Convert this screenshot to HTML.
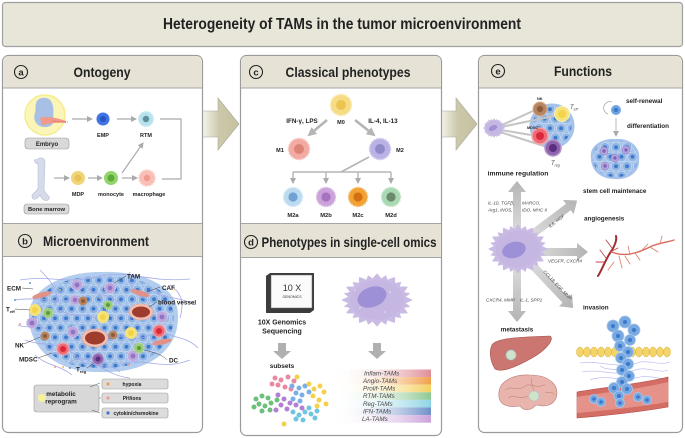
<!DOCTYPE html>
<html><head><meta charset="utf-8"><style>
html,body{margin:0;padding:0;background:#fff;}
svg{display:block;}
text{font-family:"Liberation Sans",Arial,sans-serif;}
.b{font-weight:bold;fill:#222;}
.it{font-style:italic;fill:#444;}
</style></head><body>
<svg width="685" height="438" viewBox="0 0 685 438" xmlns="http://www.w3.org/2000/svg">
<defs>
<pattern id="tum" width="11" height="19" patternUnits="userSpaceOnUse">
 <rect width="11" height="19" fill="#a4c2ea"/>
 <circle cx="5.5" cy="4.75" r="4.8" fill="#8fb3e2" stroke="#c6daf2" stroke-width="0.8"/>
 <circle cx="5.5" cy="4.75" r="1.9" fill="#3b78cc"/>
 <circle cx="0" cy="14.25" r="4.8" fill="#8fb3e2" stroke="#c6daf2" stroke-width="0.8"/>
 <circle cx="0" cy="14.25" r="1.9" fill="#3b78cc"/>
 <circle cx="11" cy="14.25" r="4.8" fill="#8fb3e2" stroke="#c6daf2" stroke-width="0.8"/>
 <circle cx="11" cy="14.25" r="1.9" fill="#3b78cc"/>
</pattern>
<linearGradient id="bigarr" x1="0" x2="1" y1="0" y2="0"><stop offset="0" stop-color="#fbfbf6"/><stop offset="0.5" stop-color="#ccc8aa"/><stop offset="1" stop-color="#c4c0a0"/></linearGradient>
<linearGradient id="garr" x1="0" x2="1" y1="0" y2="0"><stop offset="0" stop-color="#e6e6e6"/><stop offset="1" stop-color="#b4b4b4"/></linearGradient>
<linearGradient id="g1" x1="0" x2="1"><stop offset="0" stop-color="#fff" stop-opacity="0"/><stop offset="1" stop-color="#df8e98"/></linearGradient>
<linearGradient id="g2" x1="0" x2="1"><stop offset="0" stop-color="#fff" stop-opacity="0"/><stop offset="1" stop-color="#f0a04a"/></linearGradient>
<linearGradient id="g3" x1="0" x2="1"><stop offset="0" stop-color="#fff" stop-opacity="0"/><stop offset="1" stop-color="#f3d060"/></linearGradient>
<linearGradient id="g4" x1="0" x2="1"><stop offset="0" stop-color="#fff" stop-opacity="0"/><stop offset="1" stop-color="#8ec892"/></linearGradient>
<linearGradient id="g5" x1="0" x2="1"><stop offset="0" stop-color="#fff" stop-opacity="0"/><stop offset="1" stop-color="#8ed4e6"/></linearGradient>
<linearGradient id="g6" x1="0" x2="1"><stop offset="0" stop-color="#fff" stop-opacity="0"/><stop offset="1" stop-color="#6f8fc8"/></linearGradient>
<linearGradient id="g7" x1="0" x2="1"><stop offset="0" stop-color="#fff" stop-opacity="0"/><stop offset="1" stop-color="#c9a2da"/></linearGradient>
<marker id="ah" markerUnits="userSpaceOnUse" markerWidth="6" markerHeight="6" refX="5" refY="3" orient="auto"><path d="M0,0 L6,3 L0,6 z" fill="#aaa"/></marker>
<marker id="ah2" markerUnits="userSpaceOnUse" markerWidth="9" markerHeight="9" refX="7" refY="4.5" orient="auto"><path d="M0,0 L9,4.5 L0,9 z" fill="#b5b5b5"/></marker>
<g id="mac">
 <polygon points="12.5,0 8.69,2.33 10.83,6.25 6.36,6.36 6.25,10.83 2.33,8.69 0,12.5 -2.33,8.69 -6.25,10.83 -6.36,6.36 -10.83,6.25 -8.69,2.33 -12.5,0 -8.69,-2.33 -10.83,-6.25 -6.36,-6.36 -6.25,-10.83 -2.33,-8.69 0,-12.5 2.33,-8.69 6.25,-10.83 6.36,-6.36 10.83,-6.25 8.69,-2.33" fill="#c9bbe4" stroke="#c9bbe4" stroke-width="0.6" stroke-linejoin="round"/>
 <polygon points="12.5,0 8.69,2.33 10.83,6.25 6.36,6.36 6.25,10.83 2.33,8.69 0,12.5 -2.33,8.69 -6.25,10.83 -6.36,6.36 -10.83,6.25 -8.69,2.33 -12.5,0 -8.69,-2.33 -10.83,-6.25 -6.36,-6.36 -6.25,-10.83 -2.33,-8.69 0,-12.5 2.33,-8.69 6.25,-10.83 6.36,-6.36 10.83,-6.25 8.69,-2.33" fill="#c9bbe4" transform="rotate(15)"/>
 <circle r="9.6" fill="#c6b6e2"/>
</g>
</defs>

<!-- Title -->
<rect x="2.5" y="2.5" width="680" height="44" rx="3" fill="#e8e5d9" stroke="#a0a0a0" stroke-width="1.2"/>
<text x="342" y="29" text-anchor="middle" font-size="15.5" font-weight="bold" fill="#222" textLength="358" lengthAdjust="spacingAndGlyphs">Heterogeneity of TAMs in the tumor microenvironment</text>

<!-- Big arrows between panels -->
<polygon points="200,111 218,111 218,98 239,124 218,150 218,137 200,137" fill="url(#bigarr)" stroke="#aaa79a" stroke-width="0.6"/>
<polygon points="438,111 456,111 456,98 477,124 456,150 456,137 438,137" fill="url(#bigarr)" stroke="#aaa79a" stroke-width="0.6"/>

<!-- Panel a/b frame -->
<rect x="2.5" y="55.5" width="200" height="377" rx="6" fill="#fff" stroke="#9b9b9b" stroke-width="1.2"/>
<path d="M3.1,88 V61.5 Q3.1,56.1 8.5,56.1 H196.5 Q201.9,56.1 201.9,61.5 V88 Z" fill="#e6e3d6"/>
<line x1="3" y1="88" x2="202" y2="88" stroke="#a5a5a5" stroke-width="1"/>
<rect x="3.1" y="223.5" width="198.8" height="33" fill="#e6e3d6"/>
<line x1="3" y1="223.5" x2="202" y2="223.5" stroke="#a5a5a5" stroke-width="1"/>
<line x1="3" y1="256.5" x2="202" y2="256.5" stroke="#a5a5a5" stroke-width="1"/>

<!-- Panel c/d frame -->
<rect x="240.5" y="55.5" width="201" height="380" rx="6" fill="#fff" stroke="#9b9b9b" stroke-width="1.2"/>
<path d="M241.1,88 V61.5 Q241.1,56.1 246.5,56.1 H435.5 Q440.9,56.1 440.9,61.5 V88 Z" fill="#e6e3d6"/>
<line x1="241" y1="88" x2="441" y2="88" stroke="#a5a5a5" stroke-width="1"/>
<rect x="241.1" y="223.5" width="199.8" height="34" fill="#e6e3d6"/>
<line x1="241" y1="223.5" x2="441" y2="223.5" stroke="#a5a5a5" stroke-width="1"/>
<line x1="241" y1="257.5" x2="441" y2="257.5" stroke="#a5a5a5" stroke-width="1"/>

<!-- Panel e frame -->
<rect x="478.5" y="55.5" width="204" height="377" rx="6" fill="#fff" stroke="#9b9b9b" stroke-width="1.2"/>
<path d="M479.1,88 V61.5 Q479.1,56.1 484.5,56.1 H676.5 Q681.9,56.1 681.9,61.5 V88 Z" fill="#e6e3d6"/>
<line x1="479" y1="88" x2="682" y2="88" stroke="#a5a5a5" stroke-width="1"/>

<!-- Headers -->
<circle cx="21" cy="72" r="6.5" fill="none" stroke="#222" stroke-width="1.1"/>
<text x="21" y="75.5" text-anchor="middle" font-size="9.5" class="b">a</text>
<text x="102" y="77" text-anchor="middle" font-size="14" class="b" textLength="57" lengthAdjust="spacingAndGlyphs">Ontogeny</text>
<circle cx="25" cy="241" r="6.5" fill="none" stroke="#222" stroke-width="1.1"/>
<text x="25" y="244.5" text-anchor="middle" font-size="9.5" class="b">b</text>
<text x="96" y="246" text-anchor="middle" font-size="14" class="b" textLength="106" lengthAdjust="spacingAndGlyphs">Microenvironment</text>
<circle cx="256" cy="72" r="6.5" fill="none" stroke="#222" stroke-width="1.1"/>
<text x="256" y="75.5" text-anchor="middle" font-size="9.5" class="b">c</text>
<text x="348" y="77" text-anchor="middle" font-size="14" class="b" textLength="125" lengthAdjust="spacingAndGlyphs">Classical phenotypes</text>
<circle cx="251" cy="242" r="6.5" fill="none" stroke="#222" stroke-width="1.1"/>
<text x="251" y="245.5" text-anchor="middle" font-size="9.5" class="b">d</text>
<text x="349" y="247" text-anchor="middle" font-size="14" class="b" textLength="175" lengthAdjust="spacingAndGlyphs">Phenotypes in single-cell omics</text>
<circle cx="498" cy="71" r="6.5" fill="none" stroke="#222" stroke-width="1.1"/>
<text x="498" y="74.5" text-anchor="middle" font-size="9.5" class="b">e</text>
<text x="583" y="76" text-anchor="middle" font-size="14" class="b" textLength="58" lengthAdjust="spacingAndGlyphs">Functions</text>

<!-- ===== Panel a: Ontogeny ===== -->
<circle cx="45" cy="115" r="20" fill="#fbf6b8" stroke="#f5ec90" stroke-width="1.5"/>
<path d="M36,103 C38,96 50,96 52,103 C55,110 52,116 54,120 C54,126 46,129 40,126 C35,124 33,118 35,113 C36,110 35,106 36,103Z" fill="#a9c0e6"/>
<path d="M40,118 C46,116 54,117 66,121 L66,123 C56,122 48,124 42,125Z" fill="#f09a8a"/>
<line x1="52" y1="121" x2="68" y2="122" stroke="#e86a5a" stroke-width="0.8" stroke-dasharray="1.5,1"/>
<rect x="25" y="138" width="44" height="11" rx="3" fill="#d9d9d9" stroke="#999" stroke-width="0.6"/>
<text x="47" y="146" text-anchor="middle" font-size="6" class="b">Embryo</text>

<line x1="72" y1="119" x2="92" y2="119" stroke="#aaa" stroke-width="1.2" marker-end="url(#ah)"/>
<circle cx="103" cy="119" r="6.5" fill="#3f74e6"/>
<circle cx="103" cy="119" r="3" fill="#2a55c0"/>
<text x="103" y="137" text-anchor="middle" font-size="5.5" class="b">EMP</text>
<line x1="117" y1="119" x2="136" y2="119" stroke="#aaa" stroke-width="1.2" marker-end="url(#ah)"/>
<circle cx="146" cy="119" r="7.5" fill="#b6e2ee" stroke="#d3eef5" stroke-width="1.5" stroke-dasharray="2,1"/>
<circle cx="146" cy="119" r="3.2" fill="#5e8f9e"/>
<text x="146" y="137" text-anchor="middle" font-size="5.5" class="b">RTM</text>
<polyline points="160,119 181,119 181,179 162,179" fill="none" stroke="#aaa" stroke-width="1.2"/>

<path d="M37,160 C40,156 45,158 45,162 L44,190 C46,195 52,197 48,200 C44,202 41,198 40,195 C38,199 33,201 32,197 C31,194 37,192 38,188 L38,164 C34,163 33,158 37,160Z" fill="#d6dbea" stroke="#b8bfd4" stroke-width="0.6"/>
<rect x="24" y="204" width="45" height="10" rx="3" fill="#d9d9d9" stroke="#999" stroke-width="0.6"/>
<text x="46.5" y="211" text-anchor="middle" font-size="5.8" class="b">Bone marrow</text>
<line x1="54" y1="178" x2="69" y2="178" stroke="#aaa" stroke-width="1.2" marker-end="url(#ah)"/>
<circle cx="78" cy="178" r="7" fill="#f2d478"/>
<circle cx="78" cy="178" r="3.5" fill="#e6c35a"/>
<text x="78" y="196" text-anchor="middle" font-size="5.5" class="b">MDP</text>
<line x1="88" y1="178" x2="102" y2="178" stroke="#aaa" stroke-width="1.2" marker-end="url(#ah)"/>
<circle cx="111" cy="178" r="7" fill="#92d56c"/>
<circle cx="111" cy="178" r="3.5" fill="#5ea83c"/>
<text x="111" y="196" text-anchor="middle" font-size="5.5" class="b">monocyte</text>
<line x1="122" y1="178" x2="137" y2="178" stroke="#aaa" stroke-width="1.2" marker-end="url(#ah)"/>
<line x1="122" y1="173" x2="143" y2="143" stroke="#aaa" stroke-width="1.2" marker-end="url(#ah)"/>
<circle cx="147" cy="178" r="8" fill="#f9beb6" stroke="#fbd2cc" stroke-width="1.5" stroke-dasharray="2,1"/>
<circle cx="147" cy="178" r="3.2" fill="#f29a90"/>
<text x="149" y="196" text-anchor="middle" font-size="5.5" class="b">macrophage</text>

<!-- ===== Panel b: Microenvironment ===== -->
<path d="M29,318 C27,292 58,272 100,272 C142,270 180,286 178,318 C178,350 148,374 100,372 C58,373 30,350 29,318Z" fill="#b3cdee"/>
<path d="M32,318 C31,294 60,276 100,276 C140,275 175,289 174,318 C174,347 146,369 100,368 C60,369 33,347 32,318Z" fill="url(#tum)"/>
<g fill="none" stroke="#a3a9e6" stroke-width="0.8">
<path d="M20,280 C50,275 70,285 100,276 C130,270 150,283 190,279"/>
<path d="M15,300 C40,296 60,305 80,298"/>
<path d="M25,340 C45,348 60,338 80,360 C90,368 110,362 120,372"/>
<path d="M120,365 C140,355 160,372 190,360"/>
<path d="M150,290 C165,300 180,296 195,305"/>
<path d="M160,330 C175,340 185,335 198,348"/>
<path d="M40,270 C55,285 60,295 55,305"/>
<path d="M130,272 C125,285 140,300 150,300"/>
<path d="M70,362 C90,350 100,375 130,378"/>
<path d="M18,325 C30,330 35,322 48,330"/>
<path d="M85,285 C95,300 110,290 120,305"/>
<path d="M60,310 C75,320 90,310 100,322"/>
<path d="M105,340 C120,330 130,345 150,335"/>
<path d="M170,285 C180,292 185,300 180,318"/>
<path d="M35,355 C45,365 60,365 72,375"/>
</g>
<!-- CAF -->
<ellipse cx="42" cy="295" rx="10" ry="2.6" fill="#e39086" transform="rotate(-15 42 295)"/>
<ellipse cx="140" cy="293" rx="10" ry="2.6" fill="#e39086" transform="rotate(18 140 293)"/>
<ellipse cx="162" cy="342" rx="10" ry="2.6" fill="#e39086" transform="rotate(-12 162 342)"/>
<!-- blood vessels -->
<ellipse cx="141" cy="312" rx="12" ry="8" fill="#f1c0b4" stroke="#e8a090" stroke-width="1" stroke-dasharray="1.5,1"/>
<ellipse cx="141" cy="312" rx="9" ry="5.5" fill="#9e3d2e"/>
<ellipse cx="95" cy="338" rx="13" ry="9" fill="#f1c0b4" stroke="#e8a090" stroke-width="1" stroke-dasharray="1.5,1"/>
<ellipse cx="95" cy="338" rx="10" ry="6.5" fill="#9e3d2e"/>
<!-- TAMs -->
<g fill="#bca6dc" stroke="#d6c8ec" stroke-width="1" stroke-dasharray="1.5,1">
<circle cx="77" cy="285" r="5.5"/><circle cx="110" cy="288" r="5.5"/><circle cx="32" cy="323" r="5.5"/>
<circle cx="73" cy="332" r="5.5"/><circle cx="162" cy="317" r="5.5"/><circle cx="133" cy="356" r="5.5"/><circle cx="75" cy="300" r="5"/>
</g>
<g fill="#8f74c4">
<circle cx="77" cy="285" r="2.4"/><circle cx="110" cy="288" r="2.4"/><circle cx="32" cy="323" r="2.4"/>
<circle cx="73" cy="332" r="2.4"/><circle cx="162" cy="317" r="2.4"/><circle cx="133" cy="356" r="2.4"/><circle cx="75" cy="300" r="2.2"/>
</g>
<!-- Teff yellow -->
<g fill="#f6e27a"><circle cx="35" cy="310" r="6"/><circle cx="103" cy="317" r="6"/><circle cx="131" cy="333" r="6"/></g>
<g fill="#f2d34a"><circle cx="35" cy="310" r="3"/><circle cx="103" cy="317" r="3"/><circle cx="131" cy="333" r="3"/></g>
<!-- NK brown -->
<g fill="#b98560"><circle cx="83" cy="301" r="4.5"/><circle cx="45" cy="336" r="4.5"/><circle cx="113" cy="335" r="4.5"/></g>
<g fill="#8f5c3a"><circle cx="83" cy="301" r="2"/><circle cx="45" cy="336" r="2"/><circle cx="113" cy="335" r="2"/></g>
<!-- DC green -->
<g fill="#9ccc78" stroke="#b8dc9c" stroke-width="1.2" stroke-dasharray="1,1"><circle cx="48" cy="313" r="5"/><circle cx="108" cy="305" r="4.5"/><circle cx="139" cy="348" r="5"/></g>
<g fill="#5e9a3c"><circle cx="48" cy="313" r="2"/><circle cx="108" cy="305" r="2"/><circle cx="139" cy="348" r="2"/></g>
<!-- MDSC red -->
<g fill="#ee6a74" stroke="#f5a3a8" stroke-width="1.2"><circle cx="63" cy="349" r="6"/><circle cx="159" cy="331" r="6"/></g>
<g fill="#d8283a"><circle cx="63" cy="349" r="3"/><circle cx="159" cy="331" r="3"/></g>
<!-- Treg -->
<circle cx="98" cy="359" r="5.5" fill="#8e64ac" stroke="#b494cc" stroke-width="1"/>
<circle cx="98" cy="359" r="2.5" fill="#5a2f80"/>
<!-- small dots -->
<g><circle cx="30" cy="283" r="0.9" fill="#3b78cc"/><circle cx="15" cy="300" r="0.9" fill="#3b78cc"/><circle cx="20" cy="324" r="1" fill="#f29a90"/><circle cx="55" cy="367" r="1" fill="#f29a90"/><circle cx="63" cy="367" r="0.9" fill="#f0a040"/><circle cx="70" cy="368" r="0.9" fill="#3b78cc"/><circle cx="128" cy="365" r="1" fill="#f29a90"/><circle cx="175" cy="290" r="0.9" fill="#f5e070"/><circle cx="100" cy="298" r="0.9" fill="#f29a90"/><circle cx="60" cy="290" r="0.9" fill="#f5e070"/></g>
<!-- labels b -->
<g stroke="#444" stroke-width="0.5" fill="none">
<line x1="22" y1="288" x2="33" y2="289"/><line x1="15" y1="309" x2="30" y2="310"/><line x1="24" y1="344" x2="40" y2="337"/>
<line x1="38" y1="358" x2="52" y2="353"/><line x1="87" y1="368" x2="94" y2="363"/><line x1="126" y1="276" x2="114" y2="283"/>
<line x1="160" y1="287" x2="147" y2="292"/><line x1="157" y1="302" x2="149" y2="307"/><path d="M167,360 C163,356 160,354 144,350"/>
</g>
<g font-size="6.3" class="b">
<text x="7" y="290.5">ECM</text>
<text x="6" y="311.5">T<tspan font-size="4" dy="1.5">eff</tspan></text>
<text x="15" y="347.5">NK</text>
<text x="19" y="361.5">MDSC</text>
<text x="76" y="371.5">T<tspan font-size="4" dy="1.5">reg</tspan></text>
<text x="127" y="278.5">TAM</text>
<text x="162" y="290">CAF</text>
<text x="158" y="304.5">blood vessel</text>
<text x="169" y="362.5">DC</text>
</g>
<!-- metabolic reprogram -->
<rect x="34" y="385" width="65" height="27" rx="2.5" fill="#d8d8d8" stroke="#999" stroke-width="0.6"/>
<circle cx="42" cy="398" r="4" fill="#f6f29a"/>
<text x="61" y="396" text-anchor="middle" font-size="6.3" class="b">metabolic</text>
<text x="61" y="403.5" text-anchor="middle" font-size="6.3" class="b">reprogram</text>
<g stroke="#555" stroke-width="0.5"><line x1="90" y1="387" x2="100" y2="383"/><line x1="99" y1="398" x2="101" y2="398"/><line x1="92" y1="410" x2="100" y2="413"/></g>
<g fill="#dcdcdc" stroke="#999" stroke-width="0.6">
<rect x="102" y="379" width="66" height="10" rx="2"/><rect x="102" y="393" width="66" height="10" rx="2"/><rect x="102" y="408" width="66" height="10" rx="2"/>
</g>
<circle cx="108" cy="384" r="1.6" fill="#f0a040"/><circle cx="108" cy="398" r="1.6" fill="#f29a90"/><circle cx="108" cy="413" r="1.6" fill="#3b78cc"/>
<g font-size="5" class="b" text-anchor="middle">
<text x="132" y="386">hypoxia</text><text x="132" y="400">PH/ions</text><text x="136" y="415">cytokin/chemokine</text>
</g>

<!-- ===== Panel c ===== -->
<circle cx="341" cy="105" r="10.5" fill="#f7dc86" stroke="#fae8ae" stroke-width="1.5" stroke-dasharray="2,1"/>
<circle cx="341" cy="105" r="5" fill="#ecc452"/>
<text x="341" y="124" text-anchor="middle" font-size="5.5" class="b">M0</text>
<text x="302" y="123" text-anchor="middle" font-size="6.3" class="b">IFN-γ, LPS</text>
<text x="383" y="123" text-anchor="middle" font-size="6.3" class="b">IL-4, IL-13</text>
<line x1="327" y1="120" x2="309" y2="135" stroke="#b5b5b5" stroke-width="2.6" marker-end="url(#ah2)"/>
<line x1="355" y1="120" x2="374" y2="135" stroke="#b5b5b5" stroke-width="2.6" marker-end="url(#ah2)"/>
<circle cx="299" cy="149" r="10.5" fill="#f2aaa2" stroke="#f6c6c0" stroke-width="1.5" stroke-dasharray="2,1"/>
<circle cx="299" cy="149" r="5" fill="#dc8478"/>
<text x="280" y="152" text-anchor="middle" font-size="5.5" class="b">M1</text>
<circle cx="380" cy="149" r="10.5" fill="#bab2e4" stroke="#d2ccf0" stroke-width="1.5" stroke-dasharray="2,1"/>
<circle cx="380" cy="149" r="5" fill="#918ac8"/>
<text x="400" y="152" text-anchor="middle" font-size="5.5" class="b">M2</text>
<g stroke="#b5b5b5" stroke-width="1.6" fill="none">
<line x1="369" y1="157" x2="341" y2="172"/>
<line x1="293" y1="172" x2="391" y2="172"/>
</g>
<g stroke="#b5b5b5" stroke-width="1.4">
<line x1="293" y1="172" x2="293" y2="183" marker-end="url(#ah)"/>
<line x1="326" y1="172" x2="326" y2="183" marker-end="url(#ah)"/>
<line x1="358" y1="172" x2="358" y2="183" marker-end="url(#ah)"/>
<line x1="391" y1="172" x2="391" y2="183" marker-end="url(#ah)"/>
</g>
<circle cx="293" cy="197" r="9.5" fill="#bcdaf0" stroke="#d6e9f6" stroke-width="1.5" stroke-dasharray="2,1"/>
<circle cx="293" cy="197" r="4.6" fill="#6fa2d2"/>
<circle cx="326" cy="197" r="9.5" fill="#cba2da" stroke="#dcc0e6" stroke-width="1.5" stroke-dasharray="2,1"/>
<circle cx="326" cy="197" r="4.6" fill="#a672c2"/>
<circle cx="358" cy="197" r="9.5" fill="#f2a234" stroke="#f6c27a" stroke-width="1.5" stroke-dasharray="2,1"/>
<circle cx="358" cy="197" r="4.6" fill="#d47010"/>
<circle cx="391" cy="197" r="9.5" fill="#a9d9b2" stroke="#c6e6cc" stroke-width="1.5" stroke-dasharray="2,1"/>
<circle cx="391" cy="197" r="4.6" fill="#6b8a6c"/>
<g font-size="5.8" class="b" text-anchor="middle">
<text x="293" y="217">M2a</text><text x="326" y="217">M2b</text><text x="358" y="217">M2c</text><text x="391" y="217">M2d</text>
</g>

<!-- ===== Panel d ===== -->
<polygon points="266,276 270,273 314,273 314,310 310,313 266,313" fill="#3c3c3c"/>
<rect x="271" y="275" width="41" height="33" fill="#fbfbfb" stroke="#666" stroke-width="0.5"/>
<text x="292" y="291" text-anchor="middle" font-size="9" fill="#333" font-family="Liberation Mono, monospace">10 X</text>
<text x="292" y="298" text-anchor="middle" font-size="3.5" fill="#333">GENOMICS</text>
<text x="282" y="324.5" text-anchor="middle" font-size="7" class="b">10X Genomics</text>
<text x="282" y="333.5" text-anchor="middle" font-size="7" class="b">Sequencing</text>
<polygon points="278,343 286,343 286,351 291,351 282,359 273,351 278,351" fill="#b0b0b0"/>
<text x="282" y="368" text-anchor="middle" font-size="6.5" class="b">subsets</text>
<g fill="#e98aa0"><circle cx="275" cy="378" r="2.5"/><circle cx="281" cy="380" r="2.5"/><circle cx="288" cy="377" r="2.5"/><circle cx="294" cy="381" r="2.5"/><circle cx="278" cy="385" r="2.5"/><circle cx="285" cy="387" r="2.5"/><circle cx="291" cy="389" r="2.5"/><circle cx="272" cy="384" r="2.5"/></g>
<g fill="#79aee6"><circle cx="292" cy="386" r="2.5"/><circle cx="299" cy="388" r="2.5"/><circle cx="305" cy="386" r="2.5"/><circle cx="296" cy="393" r="2.5"/><circle cx="302" cy="395" r="2.5"/><circle cx="309" cy="392" r="2.5"/><circle cx="293" cy="399" r="2.5"/><circle cx="300" cy="401" r="2.5"/></g>
<g fill="#f4d04c"><circle cx="309" cy="384" r="2.5"/><circle cx="314" cy="389" r="2.5"/><circle cx="320" cy="386" r="2.5"/><circle cx="313" cy="396" r="2.5"/><circle cx="319" cy="400" r="2.5"/><circle cx="324" cy="392" r="2.5"/><circle cx="317" cy="406" r="2.5"/><circle cx="297" cy="377" r="2.5"/><circle cx="326" cy="404" r="2.5"/><circle cx="284" cy="424" r="2.5"/></g>
<g fill="#6cc07c"><circle cx="256" cy="399" r="2.5"/><circle cx="262" cy="396" r="2.5"/><circle cx="268" cy="398" r="2.5"/><circle cx="259" cy="404" r="2.5"/><circle cx="265" cy="406" r="2.5"/><circle cx="271" cy="403" r="2.5"/><circle cx="277" cy="400" r="2.5"/><circle cx="262" cy="411" r="2.5"/><circle cx="270" cy="410" r="2.5"/><circle cx="254" cy="407" r="2.5"/></g>
<g fill="#b17fd4"><circle cx="278" cy="395" r="2.5"/><circle cx="284" cy="399" r="2.5"/><circle cx="290" cy="403" r="2.5"/><circle cx="281" cy="405" r="2.5"/><circle cx="287" cy="409" r="2.5"/><circle cx="296" cy="405" r="2.5"/><circle cx="302" cy="408" r="2.5"/><circle cx="276" cy="410" r="2.5"/></g>
<g fill="#6fc4e0"><circle cx="293" cy="412" r="2.5"/><circle cx="299" cy="415" r="2.5"/><circle cx="305" cy="412" r="2.5"/><circle cx="311" cy="414" r="2.5"/><circle cx="296" cy="419" r="2.5"/><circle cx="303" cy="420" r="2.5"/><circle cx="309" cy="408" r="2.5"/><circle cx="315" cy="418" r="2.5"/><circle cx="317" cy="411" r="2.5"/></g>
<!-- big macrophage d -->
<use href="#mac" transform="translate(377,300) scale(2.75,2.05)"/>
<ellipse cx="372" cy="297" rx="15" ry="10" fill="#9d90d6" transform="rotate(-20 372 297)"/>
<g fill="#e8e2f6"><circle cx="360" cy="308" r="0.8"/><circle cx="390" cy="292" r="0.8"/><circle cx="385" cy="312" r="0.8"/><circle cx="355" cy="290" r="0.8"/></g>
<polygon points="373,343 381,343 381,351 386,351 377,359 368,351 373,351" fill="#b0b0b0"/>
<rect x="332" y="369.5" width="99" height="7.6" fill="url(#g1)"/>
<rect x="332" y="377.1" width="99" height="7.6" fill="url(#g2)"/>
<rect x="332" y="384.7" width="99" height="7.6" fill="url(#g3)"/>
<rect x="332" y="392.3" width="99" height="7.6" fill="url(#g4)"/>
<rect x="332" y="399.9" width="99" height="7.6" fill="url(#g5)"/>
<rect x="332" y="407.5" width="99" height="7.6" fill="url(#g6)"/>
<rect x="332" y="415.1" width="99" height="7.6" fill="url(#g7)"/>
<g font-size="6.3" class="it">
<text x="364" y="375.5">Inflam-TAMs</text>
<text x="363" y="383">Angio-TAMs</text>
<text x="363" y="390.6">Prolif-TAMs</text>
<text x="363" y="398.2">RTM-TAMs</text>
<text x="363" y="405.8">Reg-TAMs</text>
<text x="363" y="413.4">IFN-TAMs</text>
<text x="362" y="421">LA-TAMs</text>
</g>

<!-- ===== Panel e ===== -->
<!-- immune regulation -->
<circle cx="552" cy="126" r="21" fill="url(#tum)" stroke="#a4c2ea" stroke-width="3"/>
<g stroke="#c4c4c4" stroke-width="2" fill="none">
<line x1="500" y1="126" x2="533" y2="111"/><line x1="501" y1="127" x2="554" y2="116"/>
<line x1="501" y1="130" x2="531" y2="135"/><line x1="500" y1="132" x2="544" y2="146"/>
</g>
<use href="#mac" transform="translate(494,128) scale(0.85,0.75)"/>
<ellipse cx="493" cy="128" rx="4.5" ry="2.5" fill="#9d90d6" transform="rotate(-25 493 128)"/>
<circle cx="540" cy="109" r="7" fill="#b98560" stroke="#d6ad8e" stroke-width="1"/><circle cx="540" cy="109" r="3.2" fill="#8f5c3a"/>
<circle cx="562" cy="114" r="7.5" fill="#f6e27a" stroke="#fbeeb0" stroke-width="1"/><circle cx="562" cy="114" r="4" fill="#f2d34a"/>
<circle cx="540" cy="136" r="8" fill="#ee6a74" stroke="#f5a3a8" stroke-width="1.5"/><circle cx="540" cy="136" r="4" fill="#d8283a"/>
<circle cx="553" cy="148" r="8" fill="#8e64ac" stroke="#b494cc" stroke-width="1.5"/><circle cx="553" cy="148" r="4" fill="#5a2f80"/>
<g font-size="3.8" class="b"><text x="537" y="100">NK</text><text x="527" y="129">MDSC</text></g>
<text x="570" y="109" font-size="6" class="it" fill="#222">T<tspan font-size="3.5" dy="1.5">eff</tspan></text>
<text x="551" y="165" font-size="6" class="it" fill="#222">T<tspan font-size="3.5" dy="1.5">reg</tspan></text>
<text x="518" y="175.5" text-anchor="middle" font-size="6.8" class="b">immune regulation</text>

<!-- self renewal -->
<path d="M612,102 A6,6 0 1 0 608,114" fill="none" stroke="#aaa" stroke-width="0.8"/>
<circle cx="616" cy="110" r="5" fill="#6fa6e2"/><circle cx="616" cy="110" r="2.2" fill="#3b78cc"/>
<line x1="616" y1="118" x2="616" y2="136" stroke="#aaa" stroke-width="0.8" marker-end="url(#ah)"/>
<text x="626" y="103" font-size="6.3" class="b">self-renewal</text>
<text x="627" y="128" font-size="6.3" class="b">differentiation</text>
<path d="M592,158 C590,146 603,139 616,140 C630,139 640,148 638,160 C639,172 627,179 615,178 C601,178 592,170 592,158Z" fill="url(#tum)" stroke="#a4c2ea" stroke-width="2"/>
<g fill="#b6a4dc" stroke="#8f74c4" stroke-width="0.5"><circle cx="604" cy="151" r="4"/><circle cx="615" cy="158" r="4"/><circle cx="605" cy="166" r="4"/><circle cx="626" cy="150" r="4"/></g>
<g fill="#7d63bb"><circle cx="604" cy="151" r="1.7"/><circle cx="615" cy="158" r="1.7"/><circle cx="605" cy="166" r="1.7"/><circle cx="626" cy="150" r="1.7"/></g>
<text x="583" y="193" font-size="6.3" class="b">stem cell maintenace</text>
<text x="584" y="220.5" font-size="6.3" class="b">angiogenesis</text>

<!-- big gray arrows -->
<g fill="url(#garr)">
<polygon points="0,-4 53,-4 53,-9 64,0 53,9 53,4 0,4" transform="translate(517,245) rotate(-90)"/>
<polygon points="0,-4 63,-4 63,-9 74,0 63,9 63,4 0,4" transform="translate(518,245) rotate(-37)"/>
<polygon points="0,-4 59,-4 59,-9 70,0 59,9 59,4 0,4" transform="translate(518,252)"/>
<polygon points="0,-4 69,-4 69,-9 80,0 69,9 69,4 0,4" transform="translate(518,250) rotate(46.5)"/>
<polygon points="0,-4 61,-4 61,-9 72,0 61,9 61,4 0,4" transform="translate(517,250) rotate(90)"/>
</g>
<use href="#mac" transform="translate(518,249) scale(2.3,1.9)"/>
<ellipse cx="514" cy="250" rx="12" ry="8" fill="#9d90d6" transform="rotate(-15 514 250)"/>
<g font-size="4.6" class="it">
<text x="488" y="204.5">IL-10, TGFβ,</text><text x="488" y="211.5">Arg1, iNOS,</text>
<text x="522" y="204.5">MARCO,</text><text x="522" y="211.5">IDO, MHC II</text>
<text x="548" y="262.5">VEGFR, CXCR4</text>
<text x="486" y="301.5">CXCR4, MMP</text><text x="520" y="301.5">IL-1, SPP1</text>
<text x="0" y="0" transform="translate(550,228) rotate(-37)">IL6, HGF</text>
<text x="0" y="0" transform="translate(543,272) rotate(46.5)">CCL18, EGF, MMP</text>
</g>
<!-- vessels angiogenesis -->
<g fill="none" stroke="#c24848" stroke-linecap="round">
<path d="M598,276 C603,268 606,258 612,250 C615,245 617,240 616,236" stroke-width="2" stroke="#9e2f2f"/>
<path d="M606,258 L600,250 M610,252 L618,248 M612,248 L606,240 M604,262 L596,262" stroke-width="0.9"/>
<path d="M612,252 C625,258 640,252 652,246 C660,243 668,242 674,240" stroke-width="1.4" stroke="#d86a5a"/>
<path d="M625,256 L630,264 M635,253 L640,260 M640,252 L648,244 M650,247 L658,252 M630,255 L628,246 M660,244 L662,236" stroke-width="0.8" stroke="#e07a68"/>
<path d="M619,256 L622,268 M614,262 L608,270" stroke-width="0.8" stroke="#e07a68"/>
</g>
<text x="583" y="309.5" font-size="6.3" class="b">invasion</text>
<text x="517" y="331.5" text-anchor="middle" font-size="6.3" class="b">metastasis</text>
<!-- liver -->
<path d="M492,345 C496,338 520,337 550,336 C555,339 546,350 532,358 C516,367 502,373 495,369 C490,361 489,351 492,345Z" fill="#cb7670" stroke="#a8534c" stroke-width="0.6"/>
<circle cx="511" cy="355" r="5" fill="#cfe3c8" stroke="#9fc0e0" stroke-width="1" stroke-dasharray="1,1"/>
<!-- brain -->
<path d="M499,397 C497,382 512,374 530,375 C550,375 560,386 556,398 C553,406 544,407 536,405 C532,410 524,412 520,406 C506,408 500,404 499,397Z" fill="#e8b4ac" stroke="#b87a74" stroke-width="0.6"/>
<g fill="none" stroke="#b87a74" stroke-width="0.5"><path d="M505,390 C512,385 518,392 525,386 C530,382 537,390 545,384"/><path d="M508,398 C515,394 520,400 528,396"/><path d="M532,378 C530,386 536,390 534,396"/><path d="M545,392 C550,394 552,390 554,395"/></g>
<circle cx="534" cy="396" r="5" fill="#cfe3c8" stroke="#9fc0e0" stroke-width="1" stroke-dasharray="1,1"/>
<!-- invasion graphic -->
<g fill="none" stroke="#b4b4f0" stroke-width="0.6">
<path d="M580,363 C600,360 620,370 640,362 C650,360 660,366 670,362"/>
<path d="M582,372 C600,368 615,378 635,370 C648,366 660,374 668,370"/>
<path d="M590,380 C605,374 620,382 640,377 C650,375 660,380 668,378"/>
<path d="M600,366 C610,372 615,366 625,374"/>
</g>
<path d="M577,392 C600,388 640,384 668,377 L668,407 C640,412 600,416 577,418 Z" fill="#d46e64" stroke="#b24a44" stroke-width="0.6"/>
<path d="M577,397 C600,393 640,389 668,382 L668,402 C640,407 600,411 577,413 Z" fill="#e5928a"/>
<g fill="#f2d468" stroke="#d9b444" stroke-width="0.5">
<ellipse cx="580" cy="352" rx="3.5" ry="5"/><ellipse cx="587" cy="352" rx="3.5" ry="5"/><ellipse cx="594" cy="352" rx="3.5" ry="5"/><ellipse cx="601" cy="352" rx="3.5" ry="5"/><ellipse cx="608" cy="352" rx="3.5" ry="5"/><ellipse cx="615" cy="352" rx="3.5" ry="5"/>
<ellipse cx="632" cy="352" rx="3.5" ry="5"/><ellipse cx="639" cy="352" rx="3.5" ry="5"/><ellipse cx="646" cy="352" rx="3.5" ry="5"/><ellipse cx="653" cy="352" rx="3.5" ry="5"/><ellipse cx="660" cy="352" rx="3.5" ry="5"/><ellipse cx="667" cy="352" rx="3.5" ry="5"/>
</g>
<g fill="#78a8e0" stroke="#a8c8ee" stroke-width="0.8">
<circle cx="613" cy="326" r="6"/><circle cx="625" cy="322" r="6"/><circle cx="634" cy="330" r="6"/><circle cx="618" cy="336" r="6"/><circle cx="630" cy="340" r="5.5"/>
<circle cx="620" cy="346" r="5.5"/><circle cx="628" cy="352" r="5.5"/><circle cx="621" cy="358" r="5.5"/><circle cx="628" cy="364" r="5.5"/>
<circle cx="622" cy="370" r="5.5"/><circle cx="629" cy="376" r="5.5"/><circle cx="622" cy="382" r="5.5"/><circle cx="614" cy="388" r="5.5"/><circle cx="627" cy="389" r="5.5"/><circle cx="619" cy="396" r="5"/>
<circle cx="594" cy="399" r="4.5"/><circle cx="601" cy="402" r="4.5"/><circle cx="620" cy="403" r="4.5"/><circle cx="638" cy="397" r="4.5"/><circle cx="647" cy="400" r="4.5"/>
</g>
<g fill="#3b78cc">
<circle cx="613" cy="326" r="2"/><circle cx="625" cy="322" r="2"/><circle cx="634" cy="330" r="2"/><circle cx="618" cy="336" r="2"/><circle cx="630" cy="340" r="2"/>
<circle cx="620" cy="346" r="2"/><circle cx="628" cy="352" r="2"/><circle cx="621" cy="358" r="2"/><circle cx="628" cy="364" r="2"/>
<circle cx="622" cy="370" r="2"/><circle cx="629" cy="376" r="2"/><circle cx="622" cy="382" r="2"/><circle cx="614" cy="388" r="2"/><circle cx="627" cy="389" r="2"/><circle cx="619" cy="396" r="2"/>
<circle cx="594" cy="399" r="1.8"/><circle cx="601" cy="402" r="1.8"/><circle cx="620" cy="403" r="1.8"/><circle cx="638" cy="397" r="1.8"/><circle cx="647" cy="400" r="1.8"/>
</g>
</svg>
</body></html>
